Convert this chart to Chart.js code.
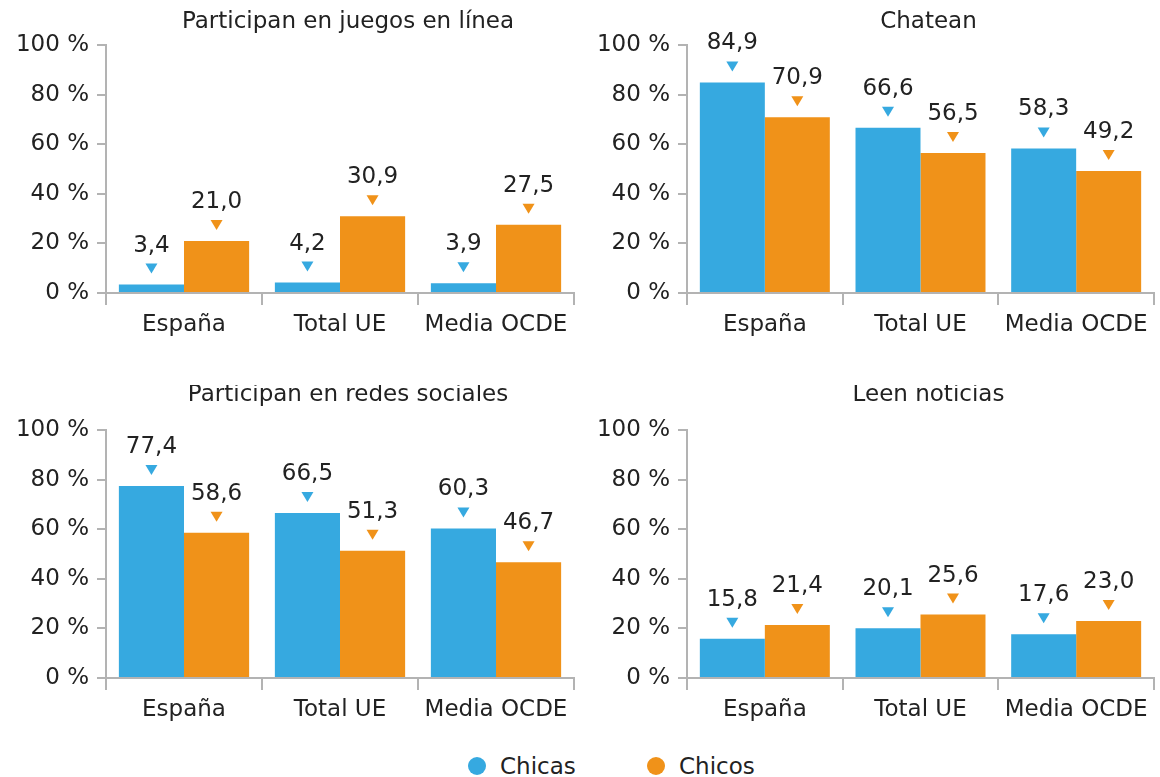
<!DOCTYPE html>
<html>
<head>
<meta charset="utf-8">
<script src="https://cdn.jsdelivr.net/npm/chart.js@4/dist/chart.umd.min.js"></script>
<style>
  body { margin: 0; background: #fff; width: 1160px; height: 777px; position: relative; overflow: hidden; font-family: "DejaVu Sans", sans-serif; }
  .box { position: absolute; width: 580px; height: 345px; }
  .item { position: absolute; top: 757px; height: 18px; display: flex; align-items: center; font-size: 23px; color: #222; }
  .dot { width: 18px; height: 18px; border-radius: 50%; margin-right: 14px; }
</style>
</head>
<body>
<div class="box" style="left:0;top:0"><canvas id="c1"></canvas></div>
<div class="box" style="left:580px;top:0"><canvas id="c2"></canvas></div>
<div class="box" style="left:0;top:385px"><canvas id="c3"></canvas></div>
<div class="box" style="left:580px;top:385px"><canvas id="c4"></canvas></div>
<div class="item" style="left:468px"><span class="dot" style="background:#36a9e0"></span>Chicas</div>
<div class="item" style="left:647px"><span class="dot" style="background:#f09219"></span>Chicos</div>
<script>
// datos
const categories = ["España", "Total UE", "Media OCDE"];
const seriesNames = ["Chicas", "Chicos"];

const juegosChicas = [3.4, 4.2, 3.9];
const juegosChicos = [21.0, 30.9, 27.5];

const chateanChicas = [84.9, 66.6, 58.3];
const chateanChicos = [70.9, 56.5, 49.2];

const redesChicas = [77.4, 66.5, 60.3];
const redesChicos = [58.6, 51.3, 46.7];

const noticiasChicas = [15.8, 20.1, 17.6];
const noticiasChicos = [21.4, 25.6, 23.0];

const yMax = 100;
const yStep = 20;

const blue = "#36a9e0";
const orange = "#f09219";
const axisColor = "#b3b3b3";
const textColor = "#222";
const fontFamily = "'DejaVu Sans', sans-serif";
const fontSize = 23;

// etiquetas con triangulo encima de cada barra
const valueLabels = {
    id: "valueLabels",
    afterDatasetsDraw(chart) {
        const ctx = chart.ctx;
        ctx.save();
        chart.data.datasets.forEach((ds, i) => {
            chart.getDatasetMeta(i).data.forEach((bar, j) => {
                const v = ds.data[j];
                ctx.fillStyle = ds.backgroundColor;
                ctx.beginPath();
                ctx.moveTo(bar.x - 6, bar.y - 21);
                ctx.lineTo(bar.x + 6, bar.y - 21);
                ctx.lineTo(bar.x, bar.y - 11);
                ctx.closePath();
                ctx.fill();
                ctx.fillStyle = textColor;
                ctx.font = fontSize + "px " + fontFamily;
                ctx.textAlign = "center";
                ctx.textBaseline = "alphabetic";
                ctx.fillText(v.toFixed(1).replace(".", ","), bar.x, bar.y - 33);
            });
        });
        ctx.restore();
    }
};

const titleDraw = {
    id: "titleDraw",
    afterDraw(chart, args, opts) {
        const ctx = chart.ctx;
        const a = chart.chartArea;
        ctx.save();
        ctx.fillStyle = textColor;
        ctx.font = fontSize + "px " + fontFamily;
        ctx.textAlign = "center";
        ctx.textBaseline = "middle";
        ctx.fillText(opts.text, (a.left + a.right) / 2 + 8, opts.y);
        ctx.restore();
    }
};

function makeChart(id, title, titleY, chicas, chicos, axisW) {
    return new Chart(document.getElementById(id), {
        type: "bar",
        data: {
            labels: categories,
            datasets: [
                { label: seriesNames[0], data: chicas, backgroundColor: blue },
                { label: seriesNames[1], data: chicos, backgroundColor: orange }
            ]
        },
        options: {
            responsive: true,
            maintainAspectRatio: false,
            animation: false,
            categoryPercentage: 0.835,
            barPercentage: 1.0,
            layout: { padding: { top: 45, right: 6, left: 0, bottom: 0 } },
            plugins: {
                legend: { display: false },
                tooltip: { enabled: false },
                titleDraw: { text: title, y: titleY }
            },
            scales: {
                x: {
                    afterFit(scale) { scale.height = 52; },
                    grid: { offset: true, drawOnChartArea: false, color: axisColor, lineWidth: 2, tickLength: 12 },
                    border: { color: axisColor, width: 2 },
                    ticks: { color: textColor, font: { family: fontFamily, size: fontSize }, padding: 6, maxRotation: 0 }
                },
                y: {
                    min: 0,
                    max: yMax,
                    afterFit(scale) { scale.width = axisW; },
                    grid: { drawOnChartArea: false, color: axisColor, lineWidth: 2, tickLength: 9 },
                    border: { color: axisColor, width: 2 },
                    ticks: {
                        stepSize: yStep,
                        color: textColor,
                        font: { family: fontFamily, size: fontSize },
                        padding: 8,
                        callback: v => v + " %"
                    }
                }
            }
        },
        plugins: [valueLabels, titleDraw]
    });
}

makeChart("c1", "Participan en juegos en línea", 22, juegosChicas, juegosChicos, 106);
makeChart("c2", "Chatean", 22, chateanChicas, chateanChicos, 107);
makeChart("c3", "Participan en redes sociales", 10, redesChicas, redesChicos, 106);
makeChart("c4", "Leen noticias", 10, noticiasChicas, noticiasChicos, 107);
</script>
</body>
</html>
